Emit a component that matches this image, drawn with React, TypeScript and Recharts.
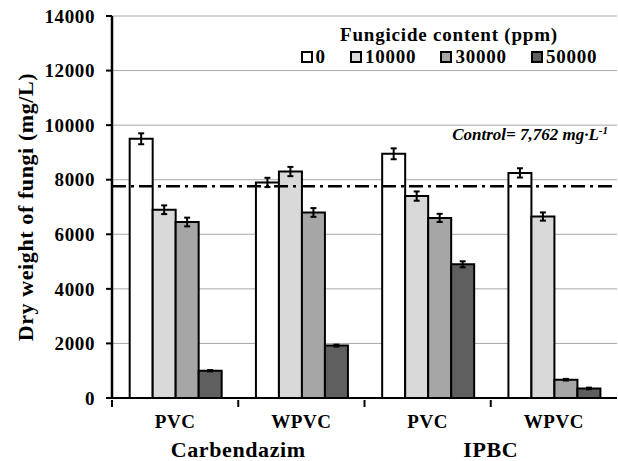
import {
  Bar,
  BarChart,
  CartesianGrid,
  ErrorBar,
  Legend,
  ReferenceLine,
  XAxis,
  YAxis,
} from "recharts";

const materials = ["PVC", "WPVC", "PVC", "WPVC"];
const fungicides = ["Carbendazim", "Carbendazim", "IPBC", "IPBC"];

const ppm0 = [9500, 7900, 8950, 8250];
const ppm10000 = [6900, 8300, 7400, 6650];
const ppm30000 = [6450, 6800, 6600, 670];
const ppm50000 = [1000, 1920, 4900, 350];

const err0 = [200, 170, 200, 170];
const err10000 = [160, 170, 170, 150];
const err30000 = [160, 160, 150, 30];
const err50000 = [25, 35, 110, 30];

const seriesNames = ["0", "10000", "30000", "50000"];
const seriesColors = ["#ffffff", "#d9d9d9", "#a6a6a6", "#5f5f5f"];
const yTicks = [0, 2000, 4000, 6000, 8000, 10000, 12000, 14000];
const controlValue = 7762;
const legendTitle = "Fungicide content (ppm)";
const yTitle = "Dry weight of fungi (mg/L)";

const FONT = '"Liberation Serif", "Times New Roman", serif';
const W = 618;
const H = 461;
const Y_AXIS_W = 112;
const MARGIN_RIGHT = 1;
const BAND = (W - Y_AXIS_W - MARGIN_RIGHT) / materials.length;

const data = materials.map((m, i) => ({
  material: m,
  fungicide: fungicides[i],
  s0: ppm0[i],
  s10000: ppm10000[i],
  s30000: ppm30000[i],
  s50000: ppm50000[i],
  e0: err0[i],
  e10000: err10000[i],
  e30000: err30000[i],
  e50000: err50000[i],
}));

function MaterialTick(props: any) {
  const { x, y, payload, index } = props;
  const left = x - BAND / 2;
  return (
    <g>
      <line x1={left} y1={y - 6} x2={left} y2={y + 1} stroke="#000" strokeWidth={2} />
      <text
        x={x}
        y={y + 22}
        textAnchor="middle"
        fontFamily={FONT}
        fontWeight="bold"
        fontSize={19}
        letterSpacing={0.5}
        fill="#000"
      >
        {payload.value}
      </text>
      {index % 2 === 0 && (
        <text
          x={x + BAND / 2}
          y={y + 51}
          textAnchor="middle"
          fontFamily={FONT}
          fontWeight="bold"
          fontSize={22}
          letterSpacing={0.6}
          fill="#000"
        >
          {fungicides[index]}
        </text>
      )}
    </g>
  );
}

function YTitle(props: any) {
  const { viewBox } = props;
  const cx = 25;
  const cy = viewBox.y + viewBox.height / 2;
  return (
    <text
      x={cx}
      y={cy}
      transform={`rotate(-90, ${cx}, ${cy})`}
      textAnchor="middle"
      dominantBaseline="central"
      fontFamily={FONT}
      fontWeight="bold"
      fontSize={22}
      letterSpacing={0.6}
      fill="#000"
    >
      {yTitle}
    </text>
  );
}

function ControlLabel(props: any) {
  const { viewBox } = props;
  return (
    <text
      x={viewBox.x + viewBox.width - 9}
      y={viewBox.y - 46}
      textAnchor="end"
      fontFamily={FONT}
      fontWeight="bold"
      fontStyle="italic"
      fontSize={17}
      fill="#000"
    >
      Control= 7,762 mg·L
      <tspan dy={-6} fontSize={11}>
        -1
      </tspan>
    </text>
  );
}

function LegendBox() {
  return (
    <div style={{ fontFamily: FONT, fontWeight: "bold", color: "#000", textAlign: "center" }}>
      <div style={{ fontSize: 19, lineHeight: "22px", letterSpacing: 0.8 }}>{legendTitle}</div>
      <div
        style={{
          display: "flex",
          justifyContent: "center",
          gap: 24,
          fontSize: 19,
          lineHeight: "22px",
          letterSpacing: 0.8,
        }}
      >
        {seriesNames.map((n, i) => (
          <span key={n} style={{ display: "flex", alignItems: "center" }}>
            <span
              style={{
                display: "inline-block",
                width: 8,
                height: 8,
                border: "2px solid #000",
                background: seriesColors[i],
                marginRight: 3,
              }}
            />
            {n}
          </span>
        ))}
      </div>
    </div>
  );
}

export default function App() {
  const keys = ["s0", "s10000", "s30000", "s50000"];
  const errKeys = ["e0", "e10000", "e30000", "e50000"];
  return (
    <div style={{ position: "absolute", left: 0, top: 0, background: "#fff" }}>
      <BarChart
        width={W}
        height={H}
        data={data}
        margin={{ top: 16, right: MARGIN_RIGHT, left: 0, bottom: 0 }}
        barCategoryGap="14%"
        barGap={0}
      >
        <CartesianGrid vertical={false} stroke="#a8a8a8" strokeWidth={1} />
        <XAxis
          dataKey="material"
          height={63}
          axisLine={{ stroke: "#000", strokeWidth: 2 }}
          tickLine={false}
          tick={<MaterialTick />}
          interval={0}
        />
        <YAxis
          width={Y_AXIS_W}
          domain={[0, 14000]}
          ticks={yTicks}
          interval={0}
          axisLine={{ stroke: "#000", strokeWidth: 2.5 }}
          tickLine={{ stroke: "#000", strokeWidth: 2 }}
          tickSize={6}
          tickMargin={11}
          tick={{ fontFamily: FONT, fontWeight: "bold", fontSize: 19, fill: "#000", letterSpacing: 0.6 }}
          label={<YTitle />}
        />
        <Legend
          layout="horizontal"
          verticalAlign="middle"
          align="center"
          content={<LegendBox />}
          wrapperStyle={{ top: 24, left: 293, width: 312 }}
        />
        {keys.map((k, i) => (
          <Bar
            key={k}
            dataKey={k}
            name={seriesNames[i]}
            fill={seriesColors[i]}
            stroke="#000"
            strokeWidth={2}
            isAnimationActive={false}
          >
            <ErrorBar dataKey={errKeys[i]} width={3} stroke="#000" strokeWidth={2} />
          </Bar>
        ))}
        <ReferenceLine
          y={controlValue}
          stroke="#000"
          strokeWidth={2.5}
          strokeDasharray="14 5 3 5"
          label={<ControlLabel />}
        />
      </BarChart>
    </div>
  );
}
